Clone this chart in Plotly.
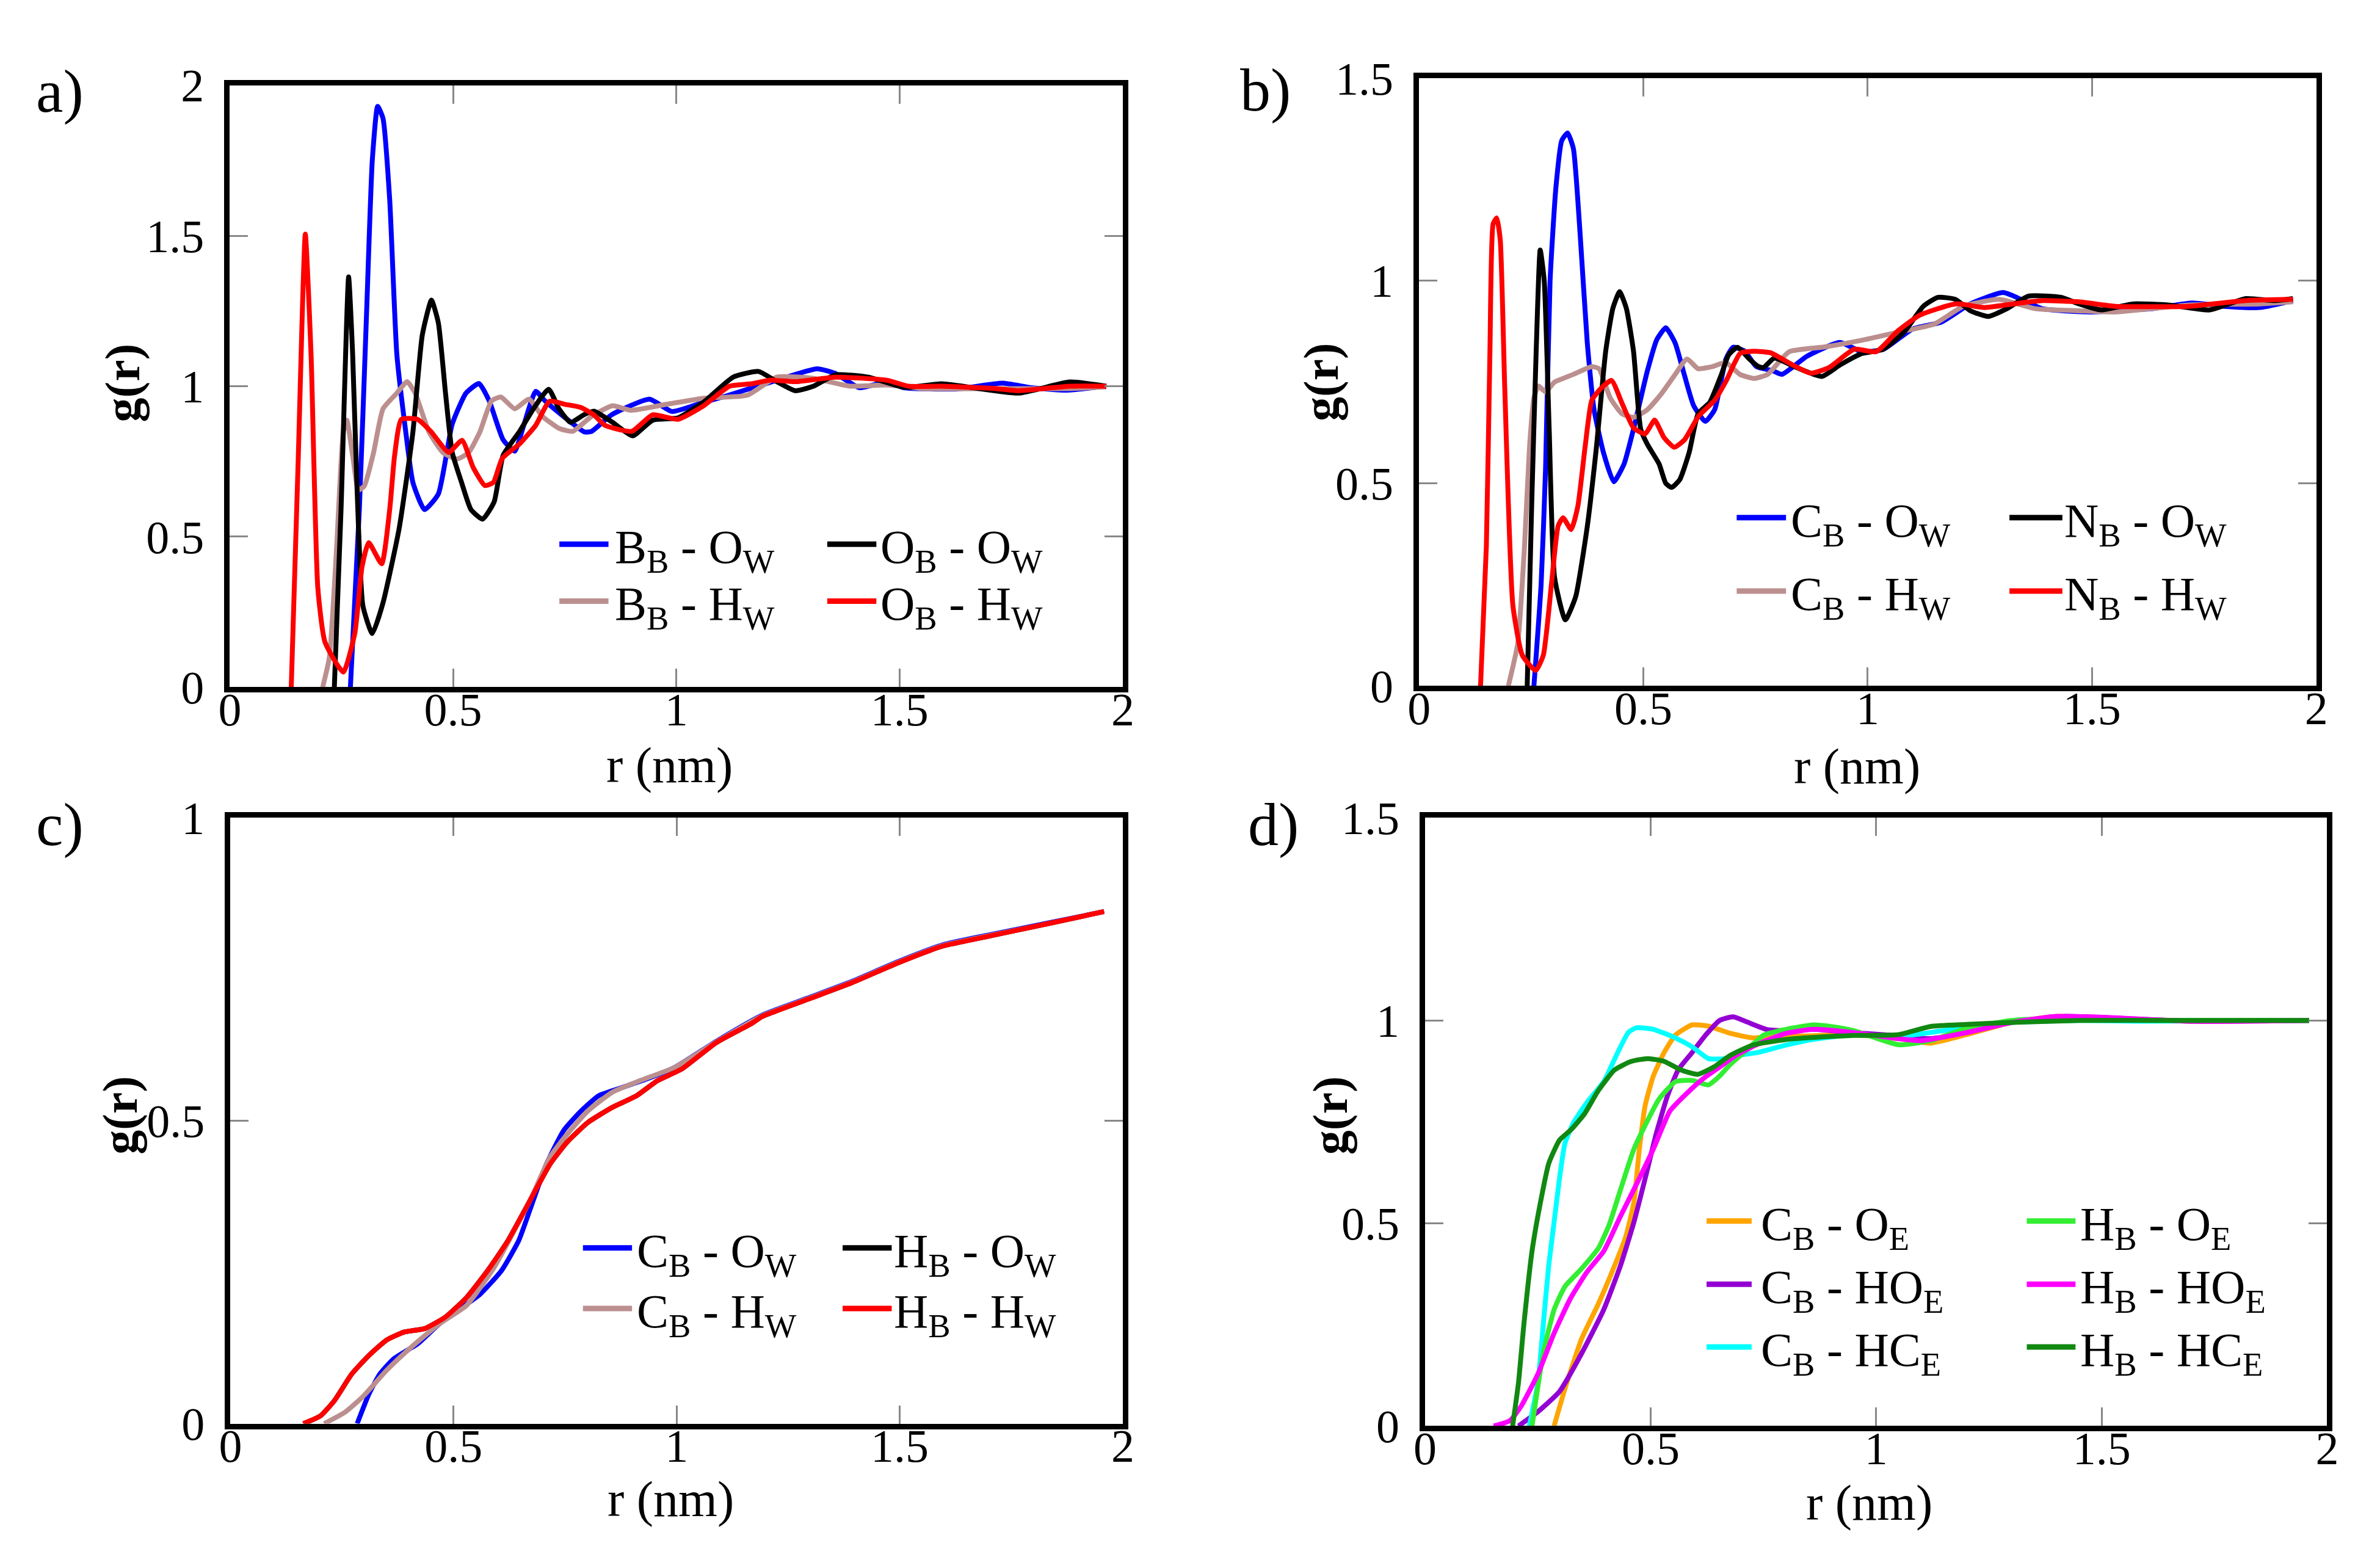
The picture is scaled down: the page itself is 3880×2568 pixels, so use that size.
import plotly.graph_objects as go

FONT = "Liberation Serif"

# ---------------- data: panel a ----------------
a_BO = [(0.27, 0), (0.29, 0.59), (0.306, 1.235), (0.319, 1.75), (0.331, 1.93), (0.343, 1.89),
        (0.358, 1.62), (0.374, 1.106), (0.394, 0.848), (0.41, 0.68), (0.436, 0.59), (0.467, 0.642),
        (0.498, 0.874), (0.529, 0.977), (0.558, 1.009), (0.581, 0.951), (0.612, 0.822), (0.638, 0.784),
        (0.659, 0.874), (0.685, 0.983), (0.706, 0.951), (0.747, 0.9), (0.794, 0.848), (0.81, 0.85),
        (0.855, 0.905), (0.94, 0.957), (0.99, 0.916), (1.06, 0.946), (1.115, 0.969), (1.225, 1.02),
        (1.315, 1.058), (1.355, 1.043), (1.41, 0.995), (1.47, 1.014), (1.51, 0.995), (1.63, 0.991),
        (1.73, 1.01), (1.795, 0.995), (1.875, 0.987), (1.96, 1.0)]
a_BH = [(0.208, 0), (0.223, 0.1), (0.239, 0.46), (0.254, 0.848), (0.262, 0.887), (0.275, 0.77),
        (0.288, 0.655), (0.301, 0.668), (0.322, 0.78), (0.343, 0.925), (0.374, 0.977), (0.397, 1.015),
        (0.415, 0.977), (0.446, 0.848), (0.477, 0.78), (0.509, 0.758), (0.535, 0.78), (0.56, 0.848),
        (0.586, 0.951), (0.607, 0.964), (0.638, 0.925), (0.67, 0.957), (0.7, 0.9), (0.737, 0.86),
        (0.768, 0.85), (0.81, 0.9), (0.857, 0.935), (0.898, 0.92), (0.979, 0.94), (1.061, 0.96),
        (1.159, 0.97), (1.225, 1.03), (1.307, 1.026), (1.389, 1.0), (1.471, 1.004), (1.553, 0.992),
        (1.717, 0.992), (1.881, 0.992), (1.963, 0.998)]
a_OO = [(0.234, 0), (0.249, 0.59), (0.266, 1.363), (0.275, 1.106), (0.285, 0.655), (0.298, 0.27),
        (0.319, 0.178), (0.343, 0.28), (0.379, 0.526), (0.41, 0.848), (0.431, 1.17), (0.4515, 1.286),
        (0.467, 1.21), (0.483, 0.977), (0.498, 0.78), (0.519, 0.68), (0.54, 0.59), (0.566, 0.558),
        (0.592, 0.616), (0.612, 0.77), (0.649, 0.85), (0.68, 0.925), (0.714, 0.99), (0.737, 0.925),
        (0.763, 0.88), (0.794, 0.906), (0.816, 0.917), (0.857, 0.88), (0.902, 0.835), (0.947, 0.887),
        (1.004, 0.895), (1.061, 0.947), (1.127, 1.03), (1.184, 1.049), (1.225, 1.015), (1.266, 0.985),
        (1.307, 1.0), (1.357, 1.038), (1.43, 1.03), (1.512, 0.996), (1.594, 1.008), (1.766, 0.977),
        (1.881, 1.014), (1.963, 1.0)]
a_OH = [(0.1375, 0), (0.153, 0.75), (0.169, 1.505), (0.182, 1.1), (0.197, 0.33), (0.213, 0.15),
        (0.254, 0.05), (0.28, 0.18), (0.296, 0.40), (0.311, 0.48), (0.34, 0.41), (0.358, 0.59),
        (0.369, 0.77), (0.384, 0.89), (0.42, 0.89), (0.45, 0.85), (0.49, 0.78), (0.52, 0.82),
        (0.545, 0.73), (0.571, 0.67), (0.59, 0.68), (0.61, 0.76), (0.65, 0.81), (0.685, 0.87),
        (0.716, 0.95), (0.75, 0.94), (0.785, 0.93), (0.815, 0.905), (0.84, 0.87), (0.9, 0.85),
        (0.947, 0.905), (1.004, 0.89), (1.061, 0.935), (1.119, 1.0), (1.168, 1.008), (1.209, 1.02),
        (1.266, 1.015), (1.357, 1.03), (1.471, 1.02), (1.52, 1.0), (1.594, 1.0), (1.717, 0.992),
        (1.766, 0.985), (1.881, 1.0), (1.963, 1.0)]

# ---------------- data: panel b ----------------
b_CO = [(0.256, 0), (0.272, 0.25), (0.282, 0.538), (0.292, 1.0), (0.305, 1.23), (0.318, 1.346),
        (0.331, 1.365), (0.344, 1.326), (0.359, 1.115), (0.375, 0.846), (0.39, 0.682), (0.411, 0.576),
        (0.434, 0.504), (0.457, 0.548), (0.478, 0.634), (0.509, 0.778), (0.53, 0.855), (0.55, 0.884),
        (0.571, 0.846), (0.591, 0.769), (0.612, 0.692), (0.638, 0.653), (0.659, 0.682), (0.684, 0.807),
        (0.7, 0.836), (0.726, 0.826), (0.752, 0.788), (0.788, 0.778), (0.809, 0.769), (0.865, 0.814),
        (0.938, 0.848), (0.986, 0.825), (1.035, 0.831), (1.1, 0.881), (1.164, 0.898), (1.229, 0.943),
        (1.302, 0.971), (1.342, 0.954), (1.39, 0.931), (1.496, 0.923), (1.633, 0.931), (1.722, 0.945),
        (1.794, 0.937), (1.875, 0.934), (1.948, 0.951)]
b_CH = [(0.199, 0), (0.22, 0.105), (0.235, 0.345), (0.246, 0.586), (0.256, 0.711), (0.266, 0.74),
        (0.282, 0.726), (0.302, 0.75), (0.344, 0.769), (0.385, 0.788), (0.401, 0.783), (0.426, 0.711),
        (0.452, 0.672), (0.478, 0.663), (0.509, 0.682), (0.54, 0.721), (0.571, 0.769), (0.597, 0.807),
        (0.622, 0.783), (0.653, 0.788), (0.684, 0.798), (0.715, 0.769), (0.746, 0.759), (0.777, 0.769),
        (0.825, 0.825), (0.906, 0.837), (0.986, 0.853), (1.067, 0.873), (1.148, 0.893), (1.213, 0.937),
        (1.293, 0.954), (1.374, 0.931), (1.471, 0.926), (1.552, 0.923), (1.714, 0.94), (1.875, 0.943),
        (1.948, 0.948)]
b_NO = [(0.241, 0), (0.251, 0.446), (0.261, 0.826), (0.27, 1.076), (0.279, 1.0), (0.29, 0.634),
        (0.302, 0.268), (0.326, 0.163), (0.349, 0.22), (0.375, 0.394), (0.395, 0.586), (0.416, 0.826),
        (0.432, 0.932), (0.447, 0.973), (0.462, 0.932), (0.478, 0.826), (0.494, 0.634), (0.509, 0.596),
        (0.535, 0.548), (0.55, 0.5), (0.563, 0.49), (0.581, 0.509), (0.602, 0.576), (0.622, 0.672),
        (0.648, 0.7), (0.674, 0.769), (0.69, 0.817), (0.71, 0.836), (0.736, 0.807), (0.757, 0.788),
        (0.768, 0.786), (0.792, 0.809), (0.841, 0.786), (0.898, 0.764), (0.938, 0.792), (0.986, 0.82),
        (1.035, 0.831), (1.083, 0.876), (1.124, 0.937), (1.156, 0.959), (1.196, 0.954), (1.229, 0.926),
        (1.269, 0.912), (1.31, 0.931), (1.358, 0.962), (1.431, 0.959), (1.471, 0.943), (1.52, 0.928),
        (1.592, 0.943), (1.673, 0.94), (1.762, 0.928), (1.843, 0.956), (1.908, 0.951), (1.948, 0.956)]
b_NH = [(0.137, 0), (0.15, 0.346), (0.158, 0.83), (0.165, 1.14), (0.173, 1.155), (0.181, 1.1),
        (0.191, 0.735), (0.209, 0.2), (0.23, 0.076), (0.26, 0.038), (0.277, 0.076), (0.295, 0.25),
        (0.31, 0.395), (0.321, 0.415), (0.339, 0.386), (0.354, 0.444), (0.37, 0.589), (0.385, 0.705),
        (0.406, 0.735), (0.429, 0.754), (0.453, 0.696), (0.478, 0.637), (0.504, 0.622), (0.525, 0.656),
        (0.546, 0.613), (0.569, 0.589), (0.592, 0.608), (0.623, 0.666), (0.659, 0.705), (0.685, 0.754),
        (0.716, 0.821), (0.747, 0.826), (0.784, 0.822), (0.825, 0.797), (0.873, 0.772), (0.914, 0.786),
        (0.97, 0.831), (1.019, 0.825), (1.067, 0.876), (1.116, 0.915), (1.196, 0.943), (1.261, 0.934),
        (1.326, 0.943), (1.39, 0.951), (1.471, 0.948), (1.552, 0.937), (1.714, 0.937), (1.843, 0.951),
        (1.948, 0.954)]

# ---------------- data: panel c ----------------
c_CO = [(0.284, 0), (0.311, 0.05), (0.335, 0.082), (0.366, 0.107), (0.42, 0.132), (0.467, 0.164),
        (0.514, 0.189), (0.56, 0.214), (0.607, 0.252), (0.646, 0.302), (0.677, 0.365), (0.708, 0.428),
        (0.747, 0.484), (0.786, 0.516), (0.825, 0.541), (0.871, 0.553), (0.934, 0.569), (0.996, 0.588),
        (1.089, 0.631), (1.192, 0.674), (1.293, 0.702), (1.394, 0.73), (1.495, 0.762), (1.596, 0.79),
        (1.697, 0.806), (1.832, 0.826), (1.958, 0.845)]
c_CH = [(0.21, 0), (0.257, 0.019), (0.296, 0.044), (0.35, 0.088), (0.405, 0.126), (0.467, 0.164),
        (0.529, 0.195), (0.591, 0.258), (0.638, 0.321), (0.677, 0.377), (0.716, 0.44), (0.755, 0.478),
        (0.801, 0.516), (0.856, 0.547), (0.918, 0.566), (0.996, 0.588), (1.089, 0.63), (1.192, 0.673),
        (1.293, 0.701), (1.394, 0.729), (1.495, 0.761), (1.596, 0.789), (1.697, 0.805), (1.832, 0.825),
        (1.958, 0.845)]
c_HO = [(0.165, 0), (0.202, 0.013), (0.233, 0.038), (0.272, 0.082), (0.311, 0.113), (0.35, 0.138),
        (0.389, 0.151), (0.436, 0.157), (0.482, 0.176), (0.529, 0.208), (0.576, 0.252), (0.622, 0.302),
        (0.669, 0.365), (0.716, 0.428), (0.755, 0.465), (0.801, 0.497), (0.856, 0.522), (0.91, 0.541),
        (0.957, 0.566), (1.011, 0.585), (1.089, 0.629), (1.167, 0.66), (1.192, 0.672), (1.293, 0.7),
        (1.394, 0.728), (1.495, 0.76), (1.596, 0.788), (1.697, 0.804), (1.832, 0.825), (1.958, 0.845)]
c_HH = [(0.163, 0), (0.202, 0.013), (0.233, 0.038), (0.272, 0.082), (0.311, 0.113), (0.35, 0.138),
        (0.389, 0.151), (0.436, 0.157), (0.482, 0.176), (0.529, 0.208), (0.576, 0.252), (0.622, 0.302),
        (0.669, 0.365), (0.716, 0.428), (0.755, 0.465), (0.801, 0.497), (0.856, 0.522), (0.91, 0.541),
        (0.957, 0.566), (1.011, 0.585), (1.089, 0.629), (1.167, 0.66), (1.192, 0.672), (1.293, 0.7),
        (1.394, 0.728), (1.495, 0.76), (1.596, 0.788), (1.697, 0.804), (1.832, 0.825), (1.958, 0.845)]

# ---------------- data: panel d ----------------
d_CO = [(0.286, 0), (0.31, 0.092), (0.347, 0.215), (0.384, 0.301), (0.42, 0.395), (0.445, 0.467),
        (0.463, 0.553), (0.475, 0.683), (0.488, 0.791), (0.506, 0.863), (0.53, 0.921), (0.555, 0.964),
        (0.592, 0.989), (0.628, 0.986), (0.677, 0.968), (0.726, 0.957), (0.769, 0.96), (0.85, 0.962),
        (0.95, 0.965), (1.05, 0.955), (1.12, 0.944), (1.2, 0.965), (1.3, 0.995), (1.4, 1.01), (1.5, 1.005),
        (1.7, 0.998), (1.85, 1.0), (1.96, 1.0)]
d_CHO = [(0.207, 0), (0.25, 0.035), (0.298, 0.085), (0.347, 0.179), (0.396, 0.287), (0.433, 0.395),
         (0.463, 0.503), (0.488, 0.611), (0.512, 0.719), (0.537, 0.813), (0.561, 0.878), (0.592, 0.921),
         (0.622, 0.964), (0.653, 1.0), (0.683, 1.009), (0.714, 0.996), (0.757, 0.978), (0.8, 0.975),
         (0.86, 0.978), (0.95, 0.97), (1.05, 0.962), (1.12, 0.955), (1.2, 0.97), (1.3, 0.995), (1.42, 1.01),
         (1.55, 1.005), (1.7, 0.998), (1.96, 1.0)]
d_CHC = [(0.231, 0), (0.25, 0.107), (0.262, 0.251), (0.274, 0.395), (0.286, 0.503), (0.298, 0.611),
         (0.31, 0.697), (0.329, 0.748), (0.359, 0.798), (0.396, 0.849), (0.427, 0.921), (0.451, 0.971),
         (0.469, 0.982), (0.506, 0.978), (0.555, 0.957), (0.592, 0.935), (0.628, 0.906), (0.659, 0.905),
         (0.695, 0.914), (0.738, 0.921), (0.8, 0.939), (0.86, 0.953), (0.95, 0.965), (1.05, 0.96),
         (1.15, 0.975), (1.3, 0.995), (1.45, 1.0), (1.6, 0.998), (1.96, 1.0)]
d_HO = [(0.237, 0), (0.262, 0.179), (0.286, 0.287), (0.31, 0.344), (0.347, 0.388), (0.384, 0.438),
        (0.408, 0.496), (0.433, 0.582), (0.463, 0.683), (0.494, 0.755), (0.518, 0.805), (0.555, 0.849),
        (0.592, 0.852), (0.628, 0.841), (0.653, 0.863), (0.677, 0.892), (0.714, 0.928), (0.751, 0.964),
        (0.8, 0.978), (0.86, 0.989), (0.9, 0.985), (0.95, 0.975), (1.05, 0.94), (1.12, 0.95), (1.2, 0.98),
        (1.3, 1.0), (1.4, 1.005), (1.6, 1.0), (1.96, 1.0)]
d_HHO = [(0.152, 0), (0.188, 0.013), (0.213, 0.049), (0.25, 0.128), (0.286, 0.229), (0.323, 0.316),
         (0.359, 0.38), (0.396, 0.431), (0.433, 0.517), (0.469, 0.597), (0.506, 0.683), (0.543, 0.777),
         (0.58, 0.82), (0.616, 0.856), (0.653, 0.885), (0.689, 0.914), (0.738, 0.942), (0.8, 0.968),
         (0.86, 0.978), (0.95, 0.97), (1.05, 0.955), (1.1, 0.95), (1.2, 0.97), (1.3, 0.995), (1.4, 1.01),
         (1.5, 1.008), (1.7, 0.998), (1.96, 1.0)]
d_HHC = [(0.194, 0), (0.207, 0.107), (0.219, 0.251), (0.237, 0.431), (0.256, 0.553), (0.274, 0.647),
         (0.298, 0.705), (0.323, 0.73), (0.353, 0.769), (0.384, 0.827), (0.42, 0.878), (0.457, 0.899),
         (0.494, 0.906), (0.53, 0.899), (0.567, 0.878), (0.604, 0.867), (0.64, 0.885), (0.677, 0.914),
         (0.726, 0.939), (0.8, 0.953), (0.891, 0.96), (0.95, 0.963), (1.05, 0.965), (1.12, 0.985),
         (1.2, 0.99), (1.3, 0.995), (1.45, 1.0), (1.7, 1.0), (1.96, 1.0)]

# ---------------- labels ----------------
x_ticks = [0, 0.5, 1, 1.5, 2]
x_ticktext = ["0", "0.5", "1", "1.5", "2"]
ya_ticks = [0, 0.5, 1, 1.5, 2]
ya_text = ["0", "0.5", "1", "1.5", "2"]
yb_ticks = [0, 0.5, 1, 1.5]
yb_text = ["0", "0.5", "1", "1.5"]
yc_ticks = [0, 0.5, 1]
yc_text = ["0", "0.5", "1"]
y_ranges = [[0, 2], [0, 1.5], [0, 1], [0, 1.5]]
panel_labels = ["a)", "b)", "c)", "d)"]
x_title = "r (nm)"
y_title = "g(r)"

panels = [
    {"series": [a_BO, a_OO, a_BH, a_OH],
     "names": ["B<sub>B</sub> - O<sub>W</sub>", "O<sub>B</sub> - O<sub>W</sub>",
               "B<sub>B</sub> - H<sub>W</sub>", "O<sub>B</sub> - H<sub>W</sub>"],
     "colors": ["#0000FF", "#000000", "#BC8F8F", "#FF0000"],
     "draw_order": [0, 2, 1, 3],
     "yt": (ya_ticks, ya_text)},
    {"series": [b_CO, b_NO, b_CH, b_NH],
     "names": ["C<sub>B</sub> - O<sub>W</sub>", "N<sub>B</sub> - O<sub>W</sub>",
               "C<sub>B</sub> - H<sub>W</sub>", "N<sub>B</sub> - H<sub>W</sub>"],
     "colors": ["#0000FF", "#000000", "#BC8F8F", "#FF0000"],
     "draw_order": [0, 2, 1, 3],
     "yt": (yb_ticks, yb_text)},
    {"series": [c_CO, c_HO, c_CH, c_HH],
     "names": ["C<sub>B</sub> - O<sub>W</sub>", "H<sub>B</sub> - O<sub>W</sub>",
               "C<sub>B</sub> - H<sub>W</sub>", "H<sub>B</sub> - H<sub>W</sub>"],
     "colors": ["#0000FF", "#000000", "#BC8F8F", "#FF0000"],
     "draw_order": [1, 0, 2, 3],
     "yt": (yc_ticks, yc_text)},
    {"series": [d_CO, d_HO, d_CHO, d_HHO, d_CHC, d_HHC],
     "names": ["C<sub>B</sub> - O<sub>E</sub>", "H<sub>B</sub> - O<sub>E</sub>",
               "C<sub>B</sub> - HO<sub>E</sub>", "H<sub>B</sub> - HO<sub>E</sub>",
               "C<sub>B</sub> - HC<sub>E</sub>", "H<sub>B</sub> - HC<sub>E</sub>"],
     "colors": ["#FFA500", "#33EE33", "#9400D3", "#FF00FF", "#00FFFF", "#118811"],
     "draw_order": [0, 2, 4, 1, 3, 5],
     "yt": (yb_ticks, yb_text)},
]

# layout geometry (pixels of 3880x2568 canvas)
W, H = 3880, 2568
frames = [(361, 1838, 102, 1121), (2328, 3812, 90, 1119), (362, 1838, 1342, 2368), (2338, 3830, 1342, 2372)]
legend_geo = [
    {"cols": [(0.369, 0.424, 0.430), (0.669, 0.724, 0.727)], "rows": [0.2375, 0.143]},
    {"cols": [(0.354, 0.409, 0.413), (0.658, 0.717, 0.718)], "rows": [0.277, 0.156]},
    {"cols": [(0.395, 0.450, 0.454), (0.686, 0.741, 0.742)], "rows": [0.290, 0.190]},
    {"cols": [(0.312, 0.362, 0.371), (0.667, 0.721, 0.725)], "rows": [0.337, 0.233, 0.130]},
]
letter_pos = [(38, 112), (2030, 110), (38, 1354), (2043, 1354)]
ytitle_pos = [(184, 606), (2166, 604), (180, 1846), (2182, 1846)]
xtitle_pos = [(1088, 1254), (3052, 1256), (1090, 2496), (3073, 2502)]

fig = go.Figure()
layout = dict(width=W, height=H, margin=dict(l=0, r=0, t=0, b=0),
              paper_bgcolor="white", plot_bgcolor="white", showlegend=False,
              font=dict(family=FONT, color="black"))
shapes, annotations = [], []

for i, p in enumerate(panels):
    k = "" if i == 0 else str(i + 1)
    xl, xr, yt_, yb_ = frames[i]
    common = dict(tickmode="array", ticks="inside", ticklen=30, tickwidth=3, tickcolor="#888888",
                  showline=True, linewidth=9, linecolor="black", mirror="ticks",
                  showgrid=False, zeroline=False, tickfont=dict(family=FONT, size=76, color="black"))
    xax = dict(domain=[xl / W, xr / W], range=[0, 2], anchor="y" + k,
               tickvals=x_ticks, ticktext=x_ticktext, ticklabelstandoff=-38, **common)
    yvals, ytext = p["yt"]
    yax = dict(domain=[1 - yb_ / H, 1 - yt_ / H], range=y_ranges[i], anchor="x" + k,
               tickvals=yvals, ticktext=ytext, ticklabelstandoff=18, **common)
    layout["xaxis" + k] = xax
    layout["yaxis" + k] = yax

    for j in p["draw_order"]:
        s = p["series"][j]
        fig.add_trace(go.Scatter(x=[q[0] for q in s], y=[q[1] for q in s], mode="lines",
                                 line=dict(color=p["colors"][j], width=8, shape="spline", smoothing=0.5),
                                 name=p["names"][j], xaxis="x" + k, yaxis="y" + k, hoverinfo="skip"))

    # manual legend (2 columns)
    g = legend_geo[i]
    ncols = 2
    for j, name in enumerate(p["names"]):
        row, col = j // ncols, j % ncols
        x0, x1, xt = g["cols"][col]
        yy = g["rows"][row]
        shapes.append(dict(type="line", xref="x" + k + " domain", yref="y" + k + " domain",
                           x0=x0, x1=x1, y0=yy, y1=yy, line=dict(color=p["colors"][j], width=9)))
        annotations.append(dict(xref="x" + k + " domain", yref="y" + k + " domain", x=xt, y=yy,
                                text=name, showarrow=False, xanchor="left", yanchor="middle",
                                yshift=-10, font=dict(family=FONT, size=78, color="black")))

    lx, ly = letter_pos[i]
    annotations.append(dict(xref="paper", yref="paper", x=lx / W, y=1 - ly / H, text=panel_labels[i],
                            showarrow=False, xanchor="left", yanchor="middle",
                            font=dict(family=FONT, size=100, color="black")))
    tx, ty = ytitle_pos[i]
    annotations.append(dict(xref="paper", yref="paper", x=tx / W, y=1 - ty / H, text="<b>" + y_title + "</b>",
                            showarrow=False, xanchor="center", yanchor="middle", textangle=-90,
                            font=dict(family=FONT, size=80, color="black")))
    tx, ty = xtitle_pos[i]
    annotations.append(dict(xref="paper", yref="paper", x=tx / W, y=1 - ty / H, text=x_title,
                            showarrow=False, xanchor="center", yanchor="middle",
                            font=dict(family=FONT, size=82, color="black")))

layout["shapes"] = shapes
layout["annotations"] = annotations
fig.update_layout(**layout)
fig.write_html("out.html", config={"displayModeBar": False},
               post_script="document.body.style.margin='0';")
